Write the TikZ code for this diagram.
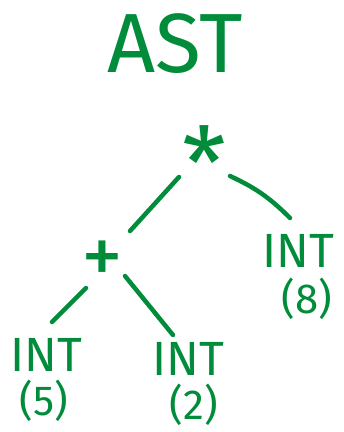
\documentclass[tikz,border=0pt]{standalone}
\usepackage{fontspec}
\setmainfont{Fira Sans}
\definecolor{ink}{RGB}{0,140,58}
\begin{document}
\begin{tikzpicture}[x=1pt,y=-1pt,
  lbl/.style={text=ink,inner sep=0pt,font=\fontsize{48}{48}\selectfont},
  val/.style={text=ink,inner sep=0pt,font=\fontsize{42}{42}\selectfont},
  op/.style={text=ink,inner sep=0pt,anchor=north},
  edge/.style={draw=ink,line width=4.5pt,line cap=round}]
\useasboundingbox (0,0) rectangle (344,432);
\node[text=ink,inner sep=0pt,font=\fontsize{84}{84}\selectfont] (title) at (175,44) {AST};
\node[op,font=\fontsize{100}{100}\selectfont] (times) at (204,125) {*};
\node[op,font=\fontsize{84}{84}\selectfont] (plus) at (102,241) {+};
\node[lbl] (int8) at (298,251) {INT};
\node[val] (val8) at (307,299) {(8)};
\node[lbl] (int5) at (46,355) {INT};
\node[val] (val5) at (44,401) {(5)};
\node[lbl] (int2) at (188,359) {INT};
\node[val] (val2) at (194,405) {(2)};
\draw[edge] ([shift={(-25,52)}]times.north) -- ([shift={(28,-10)}]plus.north);
\draw[edge] ([shift={(26,51)}]times.north) to[bend left=10] ([shift={(-8,-33)}]int8.center);
\draw[edge] ([shift={(-16,47)}]plus.north) -- ([shift={(6,-33)}]int5.center);
\draw[edge] ([shift={(23,35)}]plus.north) -- ([shift={(-15,-24)}]int2.center);
\end{tikzpicture}
\end{document}
